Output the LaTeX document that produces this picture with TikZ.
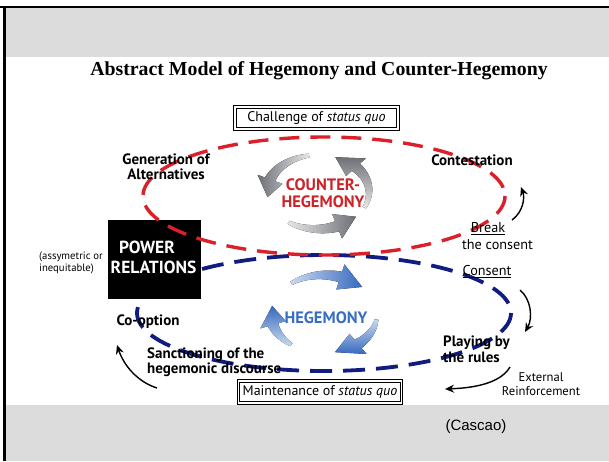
\documentclass[tikz,border=0pt]{standalone}
\usepackage{fontspec}
\setmainfont{PT Sans}
\newfontfamily\titlefont{Liberation Serif}
\newfontfamily\arialfont{Liberation Sans}
\usetikzlibrary{arrows.meta}
\definecolor{bandgray}{RGB}{220,220,220}
\definecolor{dred}{RGB}{218,32,42}
\definecolor{dblue}{RGB}{16,28,128}
\definecolor{hegblue}{RGB}{55,110,195}
\definecolor{cred}{RGB}{205,35,40}
\definecolor{lgray}{RGB}{232,232,234}
\definecolor{mgray}{RGB}{110,112,118}
\definecolor{lblue}{RGB}{200,218,240}
\definecolor{mblue}{RGB}{55,105,190}
\newcommand\cycarrow[9]{% cx cy rx ry t1 t2 t3 w style
  \fill[#9] plot[domain=#5:#6,samples=30,variable=\t]
    ({#1+(#3+#8*(0.35+0.65*(\t-#5)/(#6-#5)))*cos(\t)},{#2-(#4+#8*(0.35+0.65*(\t-#5)/(#6-#5)))*sin(\t)})
    -- ({#1+(#3+2.4*#8)*cos(#6)},{#2-(#4+2.4*#8)*sin(#6)})
    -- ({#1+#3*cos(#7)},{#2-#4*sin(#7)})
    -- ({#1+(#3-2.4*#8)*cos(#6)},{#2-(#4-2.4*#8)*sin(#6)})
    -- plot[domain=#6:#5,samples=30,variable=\t]
    ({#1+(#3-#8*(0.35+0.65*(\t-#5)/(#6-#5)))*cos(\t)},{#2-(#4-#8*(0.35+0.65*(\t-#5)/(#6-#5)))*sin(\t)})
    -- cycle;}
\tikzset{
  reddash/.style={draw=dred,line width=3.4pt,dash pattern=on 20pt off 11pt},
  bluedash/.style={draw=dblue,line width=3.8pt,dash pattern=on 22pt off 11pt},
  lbl/.style={font=\fontsize{15}{15.5}\selectfont\bfseries,align=center,inner sep=0pt},
  lblreg/.style={font=\fontsize{14.2}{16}\selectfont,align=center,inner sep=0pt},
  quobox/.style={draw,line width=0.8pt,double,double distance=1.6pt,minimum width=163pt,minimum height=22pt,
     inner sep=0pt,font=\fontsize{14}{16}\selectfont,fill=white},
  blkarrow/.style={line width=1.4pt,-{Stealth[length=9pt,width=8pt]}},
  cyctext/.style={font=\fontsize{16.5}{17}\selectfont\bfseries,align=center,inner sep=0pt},
  powertext/.style={font=\fontsize{17.5}{20}\selectfont\bfseries,text=white,inner sep=0pt}
}
\begin{document}
\begin{tikzpicture}[x=1pt,y=-1pt]
\useasboundingbox (0,0) rectangle (609,461);
\fill[white] (0,0) rectangle (609,461);
\fill[bandgray] (5,7) rectangle (609,57);
\fill[bandgray] (5,405) rectangle (609,461);
\draw[line width=2pt] (0,6.5) -- (609,6.5);
\draw[line width=2.5pt] (4.5,5.5) -- (4.5,461);

% title
\node[font=\titlefont\fontsize{19.8}{22}\selectfont\bfseries,inner sep=0pt] (title) at (319,71) {Abstract Model of Hegemony and Counter-Hegemony};

% blue ellipse (behind box)
\draw[bluedash] (324,313) ellipse [x radius=187, y radius=58];

% power box
\node[fill=black,minimum width=93pt,minimum height=79pt,inner sep=0pt] (power) at (154.5,259.5) {};
\node[powertext] (powerA) at (147,247) {POWER};
\node[powertext] (powerB) at (153.5,267.5) {RELATIONS};

% red ellipse
\draw[reddash] (324,196) ellipse [x radius=181, y radius=59];

% counter-hegemony cycle (counterclockwise on screen)
\cycarrow{318}{192}{51}{37}{-25}{42}{70}{5.5}{top color=mgray,bottom color=lgray}
\cycarrow{318}{192}{51}{37}{100}{160}{188}{5.5}{left color=mgray,right color=lgray}
\cycarrow{318}{192}{51}{37}{235}{292}{318}{5.5}{left color=lgray,right color=mgray}
\node[cyctext,text=cred] (counter) at (323,193.5) {COUNTER-\\HEGEMONY};

% hegemony cycle (clockwise on screen)
\cycarrow{324}{314}{53}{39}{128}{72}{44}{5.5}{left color=lblue,right color=mblue}
\cycarrow{324}{314}{53}{39}{-8}{-50}{-78}{5.5}{top color=lblue,bottom color=mblue}
\cycarrow{324}{314}{53}{39}{232}{196}{168}{5.5}{top color=mblue,bottom color=lblue}
\node[cyctext,text=hegblue] (hegemony) at (326,318) {HEGEMONY};

% labels
\node[lbl] (gen) at (166,166.5) {Generation of\\Alternatives};
\node[lbl] (contest) at (472,160) {Contestation};
\node[font=\fontsize{10.7}{12.5}\selectfont,align=left,inner sep=0pt,anchor=west] (assym) at (39,263) {(assymetric or\\inequitable)};
\node[lbl] (coopt) at (148,322) {Co-option};
\node[lbl,align=left,anchor=west] (sanct) at (147,362) {Sanctioning of the\\hegemonic discourse};
\node[lbl,align=left,anchor=west] (play) at (443,349.5) {Playing by\\the rules};
\node[lblreg,font=\fontsize{12.6}{14}\selectfont] (ext) at (541,384) {External\\Reinforcement};
\node[lblreg] (break) at (488,229) {\underline{Break}};
\node[lblreg] (theconsent) at (497.5,245) {the consent};
\node[lblreg] (consent) at (487,272) {\underline{Consent}};

% status quo boxes
\node[quobox] (challenge) at (316.5,118) {Challenge of \textit{status quo}};
\node[quobox] (maint) at (320,392) {Maintenance of \textit{status quo}};

\node[font=\arialfont\fontsize{15}{17}\selectfont,inner sep=0pt] (cascao) at (476,427) {(Cascao)};

% black arrows
\coordinate (a1s) at (512,220); \coordinate (a1e) at (521,187);
\coordinate (a2s) at (520,290); \coordinate (a2e) at (525,332);
\coordinate (a3s) at (510,367); \coordinate (a3e) at (445,389);
\coordinate (a4s) at (157,388); \coordinate (a4e) at (117,345);
\draw[blkarrow] (a1s) .. controls (523,212) and (525,198) .. (a1e);
\draw[blkarrow] (a2s) .. controls (531,299) and (533,318) .. (a2e);
\draw[blkarrow] (a3s) .. controls (500,384) and (472,388) .. (a3e);
\draw[blkarrow] (a4s) .. controls (138,382) and (124,366) .. (a4e);
\end{tikzpicture}
\end{document}
